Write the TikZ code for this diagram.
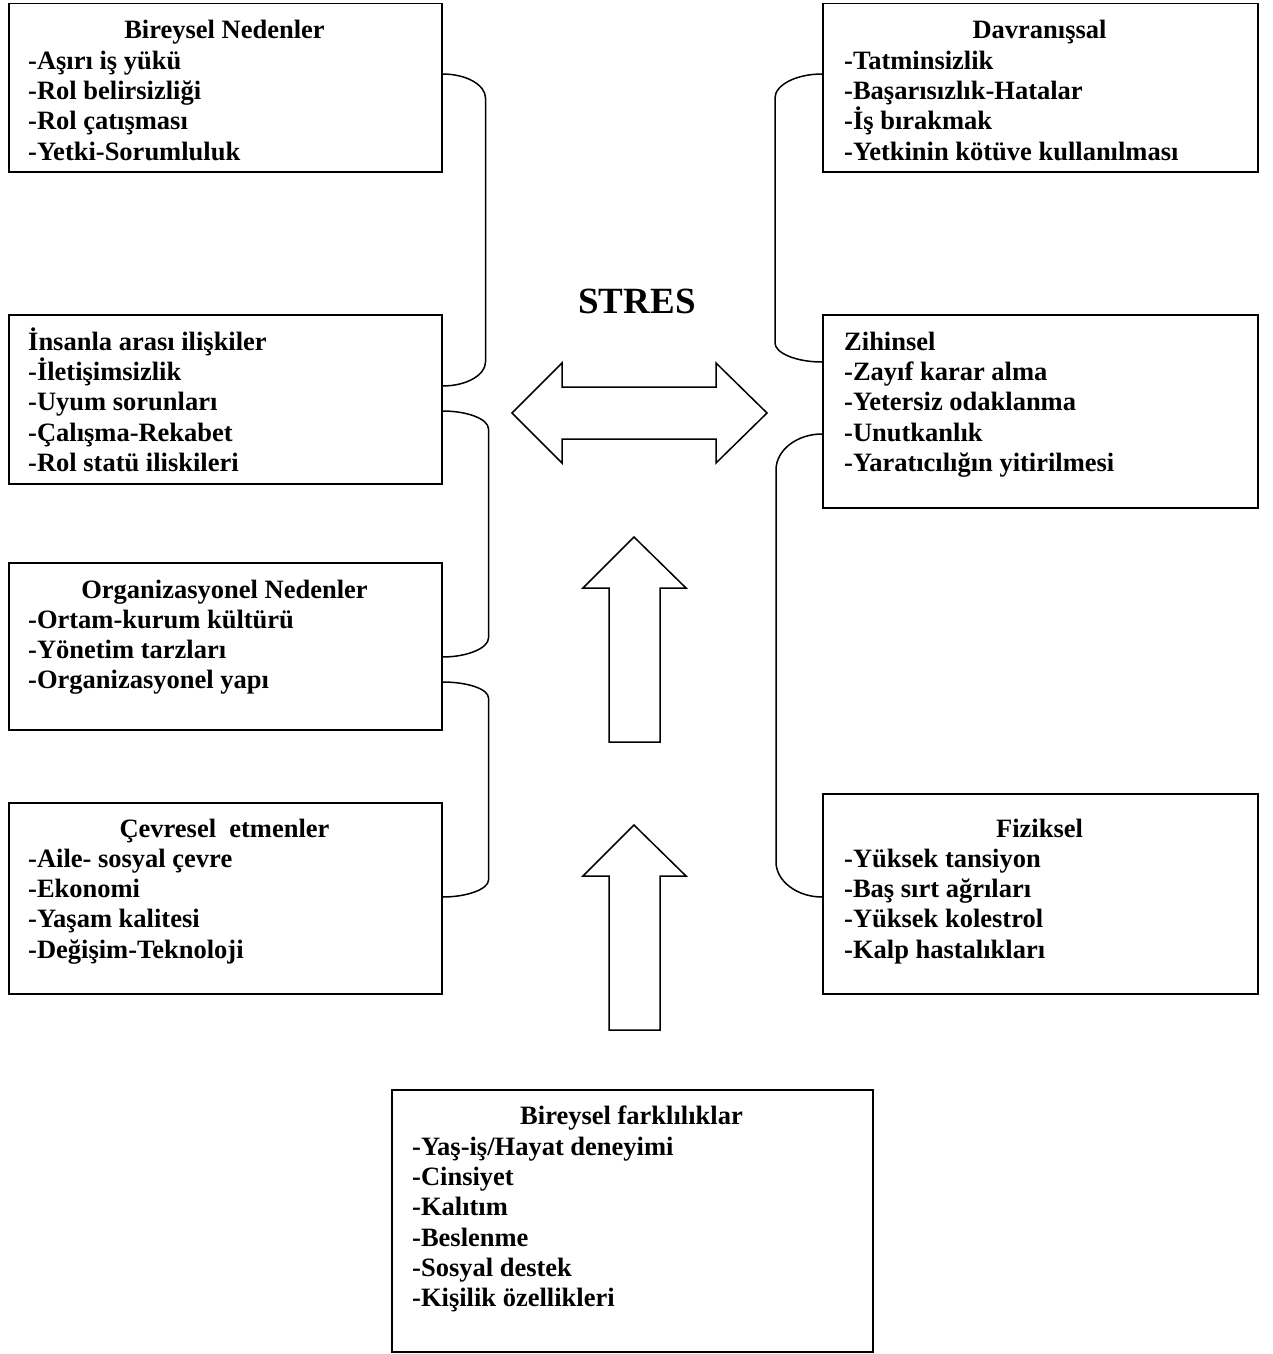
\documentclass[tikz,border=0pt]{standalone}
\usepackage{fontspec}
\setmainfont{Liberation Serif}
\usetikzlibrary{calc}
\newcommand\fl{\rule{0pt}{24pt}}
\tikzset{
  box/.style={draw, line width=1.5pt, inner sep=0pt, anchor=north west},
  ttl/.style={anchor=base, inner sep=0pt, font=\fontsize{26.5}{30.3}\selectfont\bfseries},
  items/.style={anchor=north west, align=left, inner sep=0pt, font=\fontsize{26.5}{30.3}\selectfont\bfseries},
  conn/.style={line width=1.5pt},
  bigarrow/.style={draw, line width=1.5pt, fill=white, line join=miter}
}
\begin{document}
\begin{tikzpicture}[x=1pt,y=1pt]
\useasboundingbox (0,0) rectangle (1272,-1354);
% left boxes
\node[box, minimum width=433pt, minimum height=168pt] (b1) at (8,-3) {};
\node[ttl] (b1t) at (224.5,-39) {Bireysel Nedenler};
\node[items] (b1i) at (28,-45) {\fl-Aşırı iş yükü\\-Rol belirsizliği\\-Rol çatışması\\-Yetki-Sorumluluk};

\node[box, minimum width=433pt, minimum height=169pt] (b2) at (8,-314) {};
\node[items] (b2i) at (28,-326) {\fl İnsanla arası ilişkiler\\-İletişimsizlik\\-Uyum sorunları\\-Çalışma-Rekabet\\-Rol statü iliskileri};

\node[box, minimum width=433pt, minimum height=167pt] (b3) at (8,-562) {};
\node[ttl] (b3t) at (224.5,-598) {Organizasyonel Nedenler};
\node[items] (b3i) at (28,-604) {\fl-Ortam-kurum kültürü\\-Yönetim tarzları\\-Organizasyonel yapı};

\node[box, minimum width=433pt, minimum height=191pt] (b4) at (8,-802) {};
\node[ttl] (b4t) at (224.5,-837) {Çevresel\ \ etmenler};
\node[items] (b4i) at (28,-843) {\fl-Aile- sosyal çevre\\-Ekonomi\\-Yaşam kalitesi\\-Değişim-Teknoloji};

% right boxes
\node[box, minimum width=435pt, minimum height=168pt] (r1) at (822,-3) {};
\node[ttl] (r1t) at (1039.5,-39) {Davranışsal};
\node[items] (r1i) at (844,-45) {\fl-Tatminsizlik\\-Başarısızlık-Hatalar\\-İş bırakmak\\-Yetkinin kötüve kullanılması};

\node[box, minimum width=435pt, minimum height=193pt] (r2) at (822,-314) {};
\node[items] (r2i) at (844,-326) {\fl Zihinsel\\-Zayıf karar alma\\-Yetersiz odaklanma\\-Unutkanlık\\-Yaratıcılığın yitirilmesi};

\node[box, minimum width=435pt, minimum height=200pt] (r3) at (822,-793) {};
\node[ttl] (r3t) at (1039.5,-837) {Fiziksel};
\node[items] (r3i) at (844,-843) {\fl-Yüksek tansiyon\\-Baş sırt ağrıları\\-Yüksek kolestrol\\-Kalp hastalıkları};

% bottom box
\node[box, minimum width=481pt, minimum height=262pt] (bf) at (391,-1089) {};
\node[ttl] (bft) at (631.5,-1124) {Bireysel farklılıklar};
\node[items] (bfi) at (412,-1131) {\fl-Yaş-iş/Hayat deneyimi\\-Cinsiyet\\-Kalıtım\\-Beslenme\\-Sosyal destek\\-Kişilik özellikleri};

% STRES
\node[anchor=base, inner sep=0pt, font=\fontsize{37}{40}\selectfont\bfseries] (stres) at (637,-313) {STRES};

% big arrows
\draw[bigarrow] (512,-413) -- (562,-363) -- (562,-387) -- (716,-387) -- (716,-363) -- (767,-413)
  -- (716,-463) -- (716,-439) -- (562,-439) -- (562,-463) -- cycle;
\draw[bigarrow] (634,-537) -- (583,-588) -- (609,-588) -- (609,-742) -- (660,-742) -- (660,-588) -- (686,-588) -- cycle;
\draw[bigarrow] (634,-825) -- (583,-876) -- (609,-876) -- (609,-1030) -- (660,-1030) -- (660,-876) -- (686,-876) -- cycle;

% left brackets
\coordinate (l1a) at ($(b1.north east)+(0,-71)$);
\coordinate (l1b) at ($(b2.north east)+(0,-72)$);
\draw[conn] (l1a) .. controls +(24,0) and +(0,13) .. ++(43,-24) -- ($(l1b)+(43,24)$) .. controls +(0,-13) and +(24,0) .. (l1b);
\coordinate (l2a) at ($(b2.north east)+(0,-97)$);
\coordinate (l2b) at ($(b3.north east)+(0,-95)$);
\draw[conn] (l2a) .. controls +(25,0) and +(0,10) .. ++(46,-18) -- ($(l2b)+(46,19)$) .. controls +(0,-10) and +(25,0) .. (l2b);
\coordinate (l3a) at ($(b3.north east)+(0,-120)$);
\coordinate (l3b) at ($(b4.north east)+(0,-95)$);
\draw[conn] (l3a) .. controls +(25,0) and +(0,9) .. ++(46,-16) -- ($(l3b)+(46,17)$) .. controls +(0,-9) and +(25,0) .. (l3b);

% right brackets
\coordinate (q1a) at ($(r1.north west)+(0,-71)$);
\coordinate (q1b) at ($(r2.north west)+(0,-48)$);
\draw[conn] (q1a) .. controls +(-26,0) and +(0,13) .. ++(-47,-24) -- ($(q1b)+(-47,19)$) .. controls +(0,-10) and +(-26,0) .. (q1b);
\coordinate (q2a) at ($(r2.north west)+(0,-120)$);
\coordinate (q2b) at ($(r3.north west)+(0,-104)$);
\draw[conn] (q2a) .. controls +(-25,0) and +(0,20) .. ++(-46,-36) -- ($(q2b)+(-46,35)$) .. controls +(0,-19) and +(-25,0) .. (q2b);
\end{tikzpicture}
\end{document}
